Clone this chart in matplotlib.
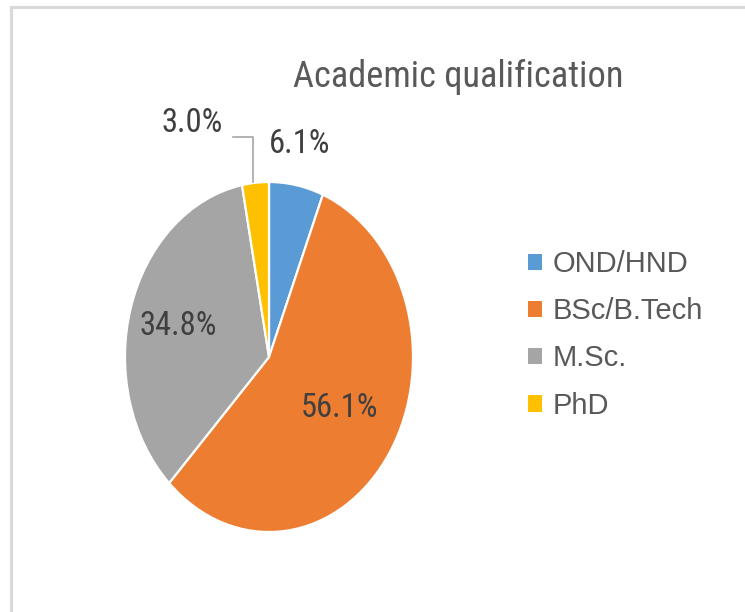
import matplotlib
matplotlib.use('Agg')
import matplotlib.pyplot as plt
from matplotlib.lines import Line2D

categories = ['OND/HND', 'BSc/B.Tech', 'M.Sc.', 'PhD']
shares = [6.1, 56.1, 34.8, 3.0]
colors = ['#5B9BD5', '#ED7D31', '#A5A5A5', '#FFC000']
title = 'Academic qualification'

# label placement inside the pie box (x, y in radius units)
label_pos = [(0.215, 1.22), (0.493, -0.291), (-0.632, 0.177), (-0.535, 1.337)]

narrow = ['Roboto Condensed', 'Liberation Sans', 'DejaVu Sans']
regular = ['Liberation Sans', 'DejaVu Sans']

W, H = 745, 612
fig = plt.figure(figsize=(W / 100, H / 100), dpi=100)

# chart border (light gray, only top and left are visible)
fig.add_artist(Line2D([10.5 / W, 10.5 / W], [0, 1 - 6.5 / H], color='#d9d9d9', lw=2.2,
                      transform=fig.transFigure))
fig.add_artist(Line2D([10.5 / W, 1], [1 - 6.5 / H, 1 - 6.5 / H], color='#d9d9d9', lw=2.2,
                      transform=fig.transFigure))

# pie box: stretched vertically like the reference
left, right, top, bottom = 125, 413, 182, 532
ax = fig.add_axes([left / W, 1 - bottom / H, (right - left) / W, (bottom - top) / H])
wedges, _ = ax.pie(shares, colors=colors, startangle=90, counterclock=False,
                   wedgeprops=dict(edgecolor='white', linewidth=1.6))
ax.set_aspect('auto')
ax.set_xlim(-1, 1)
ax.set_ylim(-1, 1)
ax.axis('off')

for v, (x, y) in zip(shares, label_pos):
    ax.text(x, y, f'{v:.1f}%', ha='center', va='center', fontsize=23.5,
            color='#404040', family=narrow, fontstretch='condensed', clip_on=False)

# leader line for the small PhD slice
ax.plot([-0.25, -0.111, -0.111], [1.257, 1.257, 1.0], color='#a6a6a6', lw=1.2,
        clip_on=False)

fig.text(458 / W, 1 - 77 / H, title, ha='center', va='center', fontsize=26.2,
         color='#595959', family=narrow, fontstretch='condensed')

leg = fig.legend(wedges, categories, loc='upper left',
                 bbox_to_anchor=(528 / W, 1 - 250 / H), frameon=False,
                 prop=dict(family=regular, size=21), labelcolor='#595959',
                 handlelength=0.48, handleheight=0.48, handletextpad=0.38,
                 labelspacing=0.66, borderpad=0, borderaxespad=0)
for h in leg.legend_handles:
    h.set_edgecolor('none')

fig.savefig('out.png', dpi=100, facecolor='white')
